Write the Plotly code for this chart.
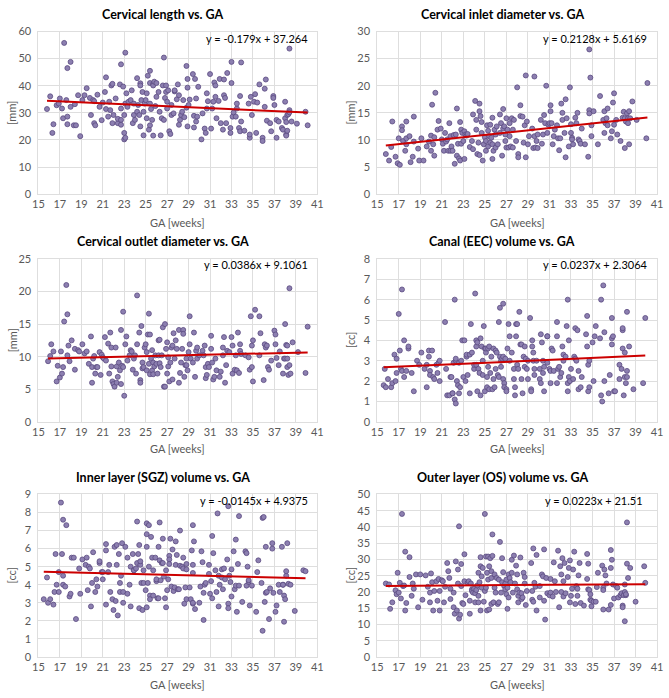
import plotly.graph_objects as go

W, H = 669, 698

# ---------------- data ----------------
titles = ["Cervical length vs. GA", "Cervical inlet diameter vs. GA",
          "Cervical outlet diameter vs. GA", "Canal (EEC) volume vs. GA",
          "Inner layer (SGZ) volume vs. GA", "Outer layer (OS) volume vs. GA"]
units = ["[mm]", "[mm]", "[mm]", "[cc]", "[cc]", "[cc]"]
equations = ["y = -0.179x + 37.264", "y = 0.2128x + 5.6169", "y = 0.0386x + 9.1061",
             "y = 0.0237x + 2.3064", "y = -0.0145x + 4.9375", "y = 0.0223x + 21.51"]
slopes = [-0.179, 0.2128, 0.0386, 0.0237, -0.0145, 0.0223]
intercepts = [37.264, 5.6169, 9.1061, 2.3064, 4.9375, 21.51]
y_max = [60, 30, 25, 8, 9, 50]
y_step = [10, 5, 5, 1, 1, 5]
x_ticks = [15, 17, 19, 21, 23, 25, 27, 29, 31, 33, 35, 37, 39, 41]

cl_pts = [(15.8,31.4),(16.1,36.1),(16.3,22.6),(16.4,25.8),(16.7,32.8),(16.9,33.4),(17.0,35.3),(17.2,31.6),
(17.3,28.0),(17.4,55.8),(17.6,34.7),(17.7,46.5),(17.7,28.6),(17.7,25.8),(18.0,48.8),(18.0,32.2),(18.3,25.4),
(18.4,33.2),(18.5,25.4),(18.7,36.5),(18.9,21.4),(19.1,34.7),(19.3,36.5),(19.5,39.1),(19.8,35.5),(19.9,29.2),
(20.1,34.7),(20.2,34.3),(20.2,26.2),(20.3,25.4),(20.5,36.7),(20.7,32.2),(20.9,27.3),(21.0,33.8),(21.2,37.7),
(21.3,43.1),(21.3,31.4),(21.5,28.6),(21.6,34.1),(21.7,31.0),(21.8,40.1),(21.9,40.7),(21.9,26.2),(22.0,29.2),
(22.2,35.3),(22.4,26.2),(22.4,27.8),(22.6,40.5),(22.7,47.9),(22.7,31.6),(22.7,27.4),(22.7,25.6),(22.9,39.7),
(23.0,22.6),(23.0,20.2),(23.1,52.2),(23.1,20.8),(23.1,33.4),(23.0,29.2),(23.2,37.2),(23.3,32.2),(23.4,34.1),
(23.6,34.7),(23.7,38.3),(23.8,26.2),(23.9,29.2),(23.9,33.4),(24.0,27.4),(24.2,42.8),(24.2,30.4),(24.3,32.9),
(24.4,29.2),(24.5,40.9),(24.5,40.1),(24.5,25.0),(24.6,34.7),(24.7,37.7),(24.8,30.4),(24.8,21.7),(24.9,33.4),
(25.0,34.7),(25.1,37.2),(25.1,28.0),(25.2,43.7),(25.3,23.8),(25.4,45.5),(25.4,41.0),(25.4,33.4),(25.4,25.4),
(25.5,31.4),(25.6,27.4),(25.7,40.7),(25.7,40.1),(25.7,21.6),(25.8,41.5),(25.9,32.5),(26.0,35.9),(26.0,41.0),
(26.2,37.7),(26.3,30.4),(26.4,21.7),(26.5,28.0),(26.7,50.4),(26.6,40.1),(26.7,27.4),(26.8,35.5),(26.9,37.7),
(26.9,40.1),(27.0,34.1),(27.0,31.6),(27.1,38.3),(27.2,23.2),(27.3,22.2),(27.4,29.2),(27.4,32.9),(27.6,29.8),
(27.7,37.9),(27.7,38.3),(27.9,35.0),(28.0,40.5),(28.1,36.5),(28.1,25.6),(28.2,27.4),(28.3,29.2),(28.4,30.4),
(28.5,34.7),(28.6,28.4),(28.8,47.3),(28.8,31.9),(28.9,42.5),(28.9,39.3),(28.9,25.0),(29.0,32.9),(29.1,34.9),
(29.4,44.3),(29.5,28.9),(29.5,24.6),(29.6,42.5),(29.7,35.3),(29.7,26.8),(29.8,28.6),(29.9,39.6),(30.2,20.2),
(30.3,29.8),(30.5,24.2),(30.6,22.6),(30.7,37.2),(30.7,31.6),(30.8,34.3),(31.0,44.3),(31.1,24.2),(31.2,31.6),
(31.3,34.1),(31.4,41.2),(31.5,40.1),(31.5,35.9),(31.6,28.0),(31.8,34.4),(31.9,42.5),(32.0,26.2),(32.2,23.8),
(32.3,42.3),(32.3,36.5),(32.4,35.5),(32.5,26.2),(32.6,44.7),(33.0,41.0),(32.9,24.4),(32.9,22.6),(33.0,48.8),
(33.1,28.6),(33.2,30.1),(33.4,28.6),(33.5,31.6),(33.5,33.4),(33.7,24.4),(33.8,36.2),(33.8,23.2),(33.9,48.6),
(33.9,26.8),(34.2,23.4),(34.6,33.4),(34.7,20.8),(34.7,22.0),(34.8,35.9),(34.9,29.2),(35.1,34.1),(35.2,36.9),
(35.3,22.6),(35.4,33.8),(35.6,40.5),(35.9,20.8),(35.9,19.6),(36.1,32.2),(36.1,38.9),(36.2,42.3),(36.3,27.1),
(36.6,26.2),(36.7,23.2),(36.9,36.2),(36.9,35.5),(37.0,32.9),(37.2,27.4),(37.2,20.8),(37.4,26.8),(37.7,24.4),
(37.8,23.8),(38.0,34.1),(38.0,28.0),(38.1,26.6),(38.1,22.0),(38.1,21.6),(38.2,23.4),(38.2,29.2),(38.3,29.5),
(38.4,53.7),(38.4,31.0),(38.4,30.2),(38.6,26.8),(39.1,26.0),(39.9,30.4),(40.1,25.4)]

inlet_pts = [(15.8,7.4),(16.1,6.2),(16.3,8.7),(16.4,13.4),(16.7,6.9),(16.9,5.7),(17.0,10.3),(17.1,5.4),(17.3,12.5),
(17.3,11.8),(17.4,9.8),(17.6,8.0),(17.7,10.3),(17.7,13.4),(17.7,9.2),(18.0,10.7),(18.1,5.9),(18.3,6.9),(18.4,9.7),
(18.4,14.3),(18.8,8.4),(18.9,6.2),(19.1,10.3),(19.3,6.2),(19.6,8.8),(19.8,9.7),(20.0,10.8),(20.0,8.0),(20.1,16.5),
(20.2,9.2),(20.3,7.1),(20.3,10.5),(20.4,18.7),(20.6,11.9),(20.7,13.5),(20.9,12.1),(21.0,10.1),(21.1,9.3),(21.2,8.0),
(21.3,11.3),(21.4,9.7),(21.5,10.1),(21.6,8.0),(21.7,13.1),(21.8,8.0),(21.8,10.7),(21.9,8.8),(22.0,8.0),(22.1,10.9),
(22.2,5.6),(22.3,11.0),(22.4,15.8),(22.4,7.1),(22.5,9.3),(22.6,6.6),(22.7,6.2),(22.7,13.3),(22.8,9.3),(22.8,11.9),
(22.9,11.3),(23.0,9.8),(23.1,11.6),(23.1,6.5),(23.2,11.0),(23.3,10.8),(23.4,11.1),(23.6,8.7),(23.8,9.8),(23.9,14.7),
(23.9,8.3),(24.1,17.2),(24.2,11.9),(24.2,13.7),(24.3,7.4),(24.4,9.5),(24.5,16.7),(24.5,15.3),(24.5,7.2),(24.6,14.4),
(24.7,11.3),(24.7,13.3),(24.8,6.2),(24.9,9.2),(25.0,10.5),(25.1,8.0),(25.1,9.8),(25.2,12.7),(25.3,11.7),(25.3,8.8),
(25.4,10.7),(25.5,12.8),(25.5,9.5),(25.6,10.4),(25.7,14.1),(25.7,6.5),(25.7,9.2),(25.8,8.0),(25.9,11.9),(26.0,8.6),
(26.0,11.0),(26.1,12.5),(26.2,9.2),(26.4,14.7),(26.4,11.3),(26.5,13.1),(26.6,7.1),(26.7,12.1),(26.7,15.7),(26.8,12.5),
(26.9,11.0),(26.9,9.8),(27.0,14.0),(27.0,8.6),(27.1,11.9),(27.2,8.6),(27.3,10.7),(27.3,13.1),(27.4,8.8),(27.5,14.0),
(27.6,11.9),(27.6,8.6),(27.7,13.7),(27.9,9.8),(28.0,19.7),(28.1,7.4),(28.1,6.8),(28.3,16.4),(28.3,14.4),(28.5,14.3),
(28.6,9.5),(28.7,12.7),(28.8,21.9),(28.8,6.8),(28.9,13.4),(29.0,9.2),(29.1,10.7),(29.4,12.1),(29.5,8.5),(29.6,10.7),
(29.6,21.7),(29.7,8.6),(29.8,9.8),(29.9,11.0),(29.9,8.5),(30.2,13.7),(30.3,9.3),(30.4,11.0),(30.5,14.6),(30.6,13.1),
(30.7,20.0),(30.8,11.3),(30.9,12.8),(31.0,13.1),(31.1,16.4),(31.1,15.3),(31.2,13.1),(31.3,9.2),(31.4,10.7),(31.5,11.9),
(31.7,12.7),(31.8,10.3),(31.9,8.1),(32.0,10.3),(32.1,16.7),(32.2,15.0),(32.2,13.7),(32.4,11.3),(32.5,17.5),(32.5,6.8),
(32.6,14.0),(32.8,8.8),(32.9,19.7),(33.0,12.9),(33.0,11.3),(33.1,10.4),(33.1,10.1),(33.2,9.2),(33.4,14.1),(33.5,13.1),
(33.6,15.0),(33.7,10.1),(33.8,9.8),(33.9,9.3),(34.0,12.1),(34.3,9.2),(34.6,6.9),(34.7,15.5),(34.7,14.9),(34.7,26.7),
(34.8,21.5),(34.9,12.7),(34.9,10.7),(35.1,15.3),(35.5,9.2),(35.7,18.1),(36.0,13.7),(36.1,11.3),(36.1,15.3),(36.2,13.1),
(36.3,14.0),(36.4,15.8),(36.4,12.7),(36.7,10.3),(36.8,11.6),(36.9,16.9),(37.0,12.8),(37.0,18.6),(37.2,13.7),(37.3,11.0),
(37.6,9.8),(37.8,14.1),(37.9,15.2),(38.0,14.0),(38.0,8.5),(38.1,13.4),(38.2,14.9),(38.3,14.0),(38.3,13.1),(38.4,9.2),
(38.4,15.3),(38.5,14.0),(38.7,17.1),(39.1,13.7),(40.0,10.3),(40.1,20.5)]

outlet_pts = [(15.9,9.3),(16.1,10.1),(16.2,11.9),(16.4,10.8),(16.7,6.2),(16.8,8.6),(17.0,6.8),(17.1,10.8),(17.2,7.4),
(17.3,8.4),(17.4,15.4),(17.6,21.0),(17.7,16.5),(17.7,10.2),(17.8,11.7),(17.9,9.3),(18.1,12.5),(18.4,8.0),(18.4,11.2),
(18.7,11.0),(18.8,10.8),(19.1,11.9),(19.3,10.5),(19.5,10.8),(19.7,8.9),(19.9,13.1),(20.0,8.4),(20.0,6.0),(20.1,9.7),
(20.2,10.1),(20.3,7.4),(20.4,8.4),(20.5,8.4),(20.7,10.7),(20.8,7.2),(20.9,10.3),(21.0,9.9),(21.1,9.7),(21.2,13.0),
(21.3,9.4),(21.5,12.0),(21.6,7.4),(21.7,13.7),(21.8,11.4),(21.8,8.5),(21.9,6.2),(22.0,5.8),(22.1,5.4),(22.2,11.4),
(22.3,6.0),(22.3,8.5),(22.4,6.9),(22.5,9.1),(22.6,7.9),(22.7,14.1),(22.7,5.8),(22.8,8.6),(22.9,8.4),(22.9,16.9),
(23.0,4.0),(23.1,11.9),(23.2,13.1),(23.3,9.4),(23.5,10.2),(23.6,11.0),(23.7,10.8),(23.8,8.0),(23.9,9.7),(24.0,10.2),
(24.1,7.4),(24.2,19.4),(24.2,11.9),(24.4,13.7),(24.5,6.4),(24.5,6.0),(24.6,14.7),(24.7,9.1),(24.7,8.2),(24.8,8.4),
(24.9,11.4),(25.0,11.9),(25.1,7.9),(25.1,10.7),(25.2,13.4),(25.3,16.6),(25.3,8.9),(25.4,7.3),(25.4,13.4),(25.5,9.7),
(25.6,11.0),(25.6,7.9),(25.7,7.3),(25.7,9.1),(25.8,8.5),(25.9,10.2),(26.0,8.9),(26.1,7.4),(26.2,10.2),(26.2,12.5),
(26.3,12.6),(26.3,9.0),(26.4,8.4),(26.5,10.2),(26.6,14.5),(26.7,5.4),(26.8,15.0),(26.8,5.4),(26.9,11.2),(27.0,7.4),
(27.0,12.2),(27.1,8.5),(27.1,9.9),(27.2,6.2),(27.3,9.1),(27.4,11.4),(27.5,6.5),(27.5,11.7),(27.6,13.6),(27.7,9.7),
(27.8,12.5),(27.9,11.2),(28.1,14.1),(28.1,6.0),(28.2,7.5),(28.3,9.1),(28.4,11.2),(28.5,14.1),(28.5,13.5),(28.6,6.9),
(28.7,8.7),(28.8,8.7),(28.8,9.7),(28.9,7.9),(29.0,10.7),(29.1,11.9),(29.1,16.2),(29.2,9.7),(29.4,9.1),(29.5,13.7),
(29.6,6.9),(29.7,10.9),(29.8,11.4),(29.8,9.7),(30.0,10.2),(30.3,10.9),(30.4,10.2),(30.5,11.7),(30.6,8.4),(30.6,6.7),
(30.7,7.2),(30.8,8.9),(30.9,8.4),(31.1,13.2),(31.1,11.2),(31.2,9.1),(31.3,6.5),(31.4,6.9),(31.5,9.7),(31.6,7.9),
(31.9,6.9),(32.0,7.7),(32.2,10.2),(32.2,11.4),(32.3,13.0),(32.4,6.0),(32.5,8.7),(32.6,10.9),(32.8,10.7),(33.0,13.0),
(33.1,11.7),(33.1,7.4),(33.3,8.0),(33.4,10.2),(33.5,7.9),(33.6,13.7),(33.7,7.5),(33.8,11.9),(33.8,10.9),(33.9,10.4),
(34.3,10.2),(34.6,9.9),(34.7,8.0),(34.8,16.2),(34.9,11.7),(34.9,8.4),(35.0,12.5),(35.0,6.2),(35.2,17.2),(35.6,16.2),
(35.6,10.2),(35.7,13.6),(36.0,6.4),(36.1,11.9),(36.2,11.4),(36.3,11.7),(36.4,8.4),(36.5,8.0),(36.7,9.4),(37.0,14.0),
(37.1,13.4),(37.1,11.9),(37.2,9.8),(37.4,8.7),(37.5,10.8),(37.8,7.4),(37.9,9.7),(38.0,15.0),(38.0,9.7),(38.1,11.8),
(38.2,11.7),(38.2,8.4),(38.2,9.7),(38.3,7.2),(38.4,20.5),(38.4,8.7),(38.5,7.4),(38.7,12.2),(39.2,10.7),(39.9,7.5),
(40.1,14.6)]

canal_pts = [(15.6,1.8),(15.7,2.6),(15.8,1.7),(16.0,2.1),(16.3,1.7),(16.4,1.9),(16.6,3.3),(16.7,2.0),(16.8,3.1),
(16.8,2.4),(17.0,5.3),(17.1,3.5),(17.2,2.6),(17.3,6.5),(17.3,2.5),(17.5,2.2),(17.5,4.0),(17.7,2.5),(17.9,3.6),
(17.9,3.7),(18.2,2.4),(18.4,1.5),(18.7,3.0),(18.9,2.8),(19.1,3.4),(19.4,2.6),(19.6,2.8),(19.6,1.7),(19.8,3.2),
(19.8,3.5),(19.9,2.5),(19.9,2.3),(20.1,3.5),(20.2,2.2),(20.3,2.1),(20.5,2.8),(20.6,2.4),(20.7,2.9),(20.8,2.0),
(20.8,3.0),(21.3,4.9),(21.4,2.6),(21.5,1.3),(21.7,1.3),(21.8,2.2),(21.9,2.2),(22.0,1.4),(22.0,1.4),(22.1,2.9),
(22.2,6.0),(22.2,1.1),(22.3,0.9),(22.3,3.0),(22.3,3.1),(22.4,2.0),(22.5,1.8),(22.6,2.9),(22.6,1.4),(22.7,1.7),
(22.8,3.0),(22.9,4.0),(23.0,2.2),(23.1,4.0),(23.2,2.0),(23.3,3.2),(23.3,3.3),(23.4,2.3),(23.6,1.4),(23.6,3.3),
(23.7,4.8),(23.8,3.4),(24.0,2.6),(24.0,2.8),(24.1,6.3),(24.2,3.7),(24.2,4.0),(24.2,2.8),(24.3,1.5),(24.3,3.9),
(24.4,2.6),(24.5,2.4),(24.6,4.1),(24.6,1.3),(24.7,3.7),(24.8,3.0),(24.8,2.3),(24.9,4.7),(25.0,3.6),(25.0,1.5),
(25.1,3.4),(25.1,3.6),(25.2,2.2),(25.2,1.7),(25.3,3.6),(25.3,2.7),(25.4,1.6),(25.4,3.7),(25.5,2.4),(25.6,3.2),
(25.7,1.6),(25.8,3.6),(25.8,2.1),(25.9,1.7),(26.0,2.6),(26.0,3.5),(26.1,3.4),(26.2,2.3),(26.3,2.2),(26.3,4.9),
(26.4,3.2),(26.4,5.6),(26.5,3.0),(26.5,2.7),(26.6,3.1),(26.7,5.8),(26.7,3.2),(26.7,2.1),(26.8,1.9),(26.8,1.7),
(26.9,3.1),(27.0,1.6),(27.0,1.5),(27.1,3.6),(27.2,4.8),(27.3,4.2),(27.3,3.0),(27.5,3.4),(27.7,2.1),(27.7,2.6),
(27.8,1.7),(27.8,1.3),(27.9,4.8),(27.9,4.2),(28.0,4.8),(28.0,2.8),(28.1,2.6),(28.2,5.4),(28.3,3.8),(28.4,2.1),
(28.4,3.8),(28.5,1.4),(28.6,3.2),(28.7,3.7),(28.7,2.7),(28.8,3.1),(28.9,2.6),(29.0,3.0),(29.0,2.1),(29.2,5.1),
(29.3,1.6),(29.3,1.5),(29.4,4.0),(29.4,3.7),(29.5,3.4),(29.5,3.0),(29.6,2.6),(29.6,2.3),(29.8,3.0),(30.1,2.6),
(30.1,2.1),(30.2,1.9),(30.2,4.3),(30.3,3.9),(30.4,3.0),(30.4,2.4),(30.5,1.5),(30.5,2.7),(30.8,4.2),(30.8,4.2),
(30.8,2.9),(31.0,2.6),(31.1,1.9),(31.1,2.5),(31.2,3.6),(31.3,3.5),(31.4,2.5),(31.7,1.9),(31.7,4.9),(31.7,4.2),
(31.8,2.6),(31.9,2.7),(32.0,2.2),(32.1,2.4),(32.2,3.7),(32.3,3.3),(32.3,3.0),(32.5,3.2),(32.6,4.7),(32.7,1.9),
(32.7,1.5),(32.7,6.0),(32.8,2.2),(32.8,4.0),(32.9,2.0),(33.0,2.6),(33.2,2.1),(33.3,3.2),(33.4,3.1),(33.4,4.6),
(33.5,3.0),(33.6,4.5),(33.7,2.5),(33.7,1.6),(33.9,1.7),(34.0,2.2),(34.4,4.3),(34.5,3.7),(34.5,5.2),(34.6,2.8),
(34.6,1.5),(34.7,3.0),(34.7,1.7),(35.0,3.9),(35.1,2.0),(35.2,4.2),(35.3,4.7),(35.7,4.1),(35.8,6.0),(35.8,1.3),
(35.9,1.0),(36.0,6.7),(36.1,2.0),(36.1,4.4),(36.5,1.4),(36.6,2.3),(36.8,5.1),(36.8,3.8),(36.8,4.1),(36.9,4.2),
(37.0,1.5),(37.1,1.5),(37.5,2.1),(37.5,2.8),(37.7,2.6),(37.8,4.5),(37.8,4.6),(37.8,3.6),(37.9,1.3),(38.0,3.4),
(38.0,2.2),(38.1,1.9),(38.2,5.4),(38.2,2.5),(38.2,2.2),(38.4,3.7),(38.8,1.6),(39.7,1.9),(39.9,5.1)]

inner_pts = [(15.5,3.2),(15.8,4.4),(15.9,3.0),(16.1,3.2),(16.4,2.9),(16.5,3.6),(16.6,5.7),(16.7,4.0),(16.9,3.6),
(16.9,4.7),(17.1,8.55),(17.2,5.7),(17.3,4.0),(17.3,4.5),(17.3,7.6),(17.5,3.9),(17.6,7.3),(17.9,3.35),(18.0,3.5),
(18.1,5.5),(18.3,5.5),(18.5,2.1),(18.8,4.9),(18.9,3.5),(19.1,5.4),(19.4,5.1),(19.5,5.5),(19.6,3.7),(19.7,5.0),
(19.8,4.9),(19.9,2.8),(20.0,4.1),(20.1,5.8),(20.3,3.6),(20.4,4.3),(20.5,3.9),(20.7,5.2),(20.7,5.3),(20.9,4.7),
(21.0,4.3),(21.0,4.7),(21.3,6.25),(21.3,5.9),(21.3,2.9),(21.5,4.7),(21.6,5.1),(21.7,3.6),(21.9,3.2),(22.0,2.6),
(22.1,6.1),(22.2,3.1),(22.3,6.2),(22.3,5.1),(22.4,2.3),(22.5,5.7),(22.6,3.6),(22.6,4.1),(22.7,4.5),(22.8,6.3),
(22.9,3.6),(22.9,3.0),(23.1,6.1),(23.3,5.5),(23.3,3.5),(23.5,4.0),(23.6,5.0),(23.6,2.8),(23.8,5.7),(23.9,4.8),
(23.9,4.8),(24.1,4.9),(24.2,7.5),(24.2,5.2),(24.3,5.7),(24.4,6.2),(24.4,2.7),(24.5,5.1),(24.5,5.3),(24.6,4.1),
(24.7,2.6),(24.8,4.8),(24.8,4.1),(25.0,3.7),(25.1,6.8),(25.1,7.4),(25.1,2.75),(25.1,6.1),(25.2,4.1),(25.3,7.3),
(25.3,5.0),(25.4,3.4),(25.4,3.2),(25.5,6.65),(25.6,5.5),(25.7,4.8),(25.7,3.4),(25.9,5.5),(26.0,4.2),(26.0,4.3),
(26.1,3.25),(26.2,3.25),(26.2,6.1),(26.3,5.35),(26.3,7.45),(26.4,4.25),(26.5,5.2),(26.6,5.2),(26.6,6.55),(26.7,4.45),
(26.8,3.25),(26.9,4.8),(26.9,2.75),(27.0,3.7),(27.1,4.3),(27.2,5.6),(27.2,5.4),(27.2,5.15),(27.3,6.55),(27.4,3.9),
(27.5,5.95),(27.6,3.65),(27.7,3.85),(27.8,6.4),(27.8,5.1),(27.9,5.65),(28.0,3.75),(28.1,3.75),(28.2,5.05),(28.2,7.0),
(28.4,5.0),(28.5,5.5),(28.5,4.9),(28.6,2.95),(28.7,3.85),(28.8,5.15),(28.8,3.2),(28.8,4.85),(29.1,3.85),(29.2,3.2),
(29.3,5.9),(29.4,7.3),(29.4,2.95),(29.4,3.0),(29.4,5.1),(29.4,4.65),(29.5,6.4),(29.6,2.65),(30.0,3.0),(30.1,3.9),
(30.2,5.85),(30.3,5.25),(30.4,3.55),(30.4,2.05),(30.5,4.0),(30.6,4.1),(30.9,5.1),(30.9,4.6),(31.0,3.5),(31.1,4.2),
(31.2,6.7),(31.2,3.25),(31.3,5.75),(31.5,4.8),(31.6,3.6),(31.7,7.95),(31.8,4.5),(31.8,2.8),(31.9,4.0),(32.1,4.4),
(32.1,4.85),(32.2,3.75),(32.3,4.9),(32.4,4.3),(32.6,5.4),(32.7,2.95),(32.7,2.7),(32.7,8.35),(32.8,4.5),(32.9,4.15),
(33.0,3.35),(33.0,4.85),(33.2,5.85),(33.3,3.75),(33.4,6.5),(33.4,3.95),(33.5,2.5),(33.6,5.15),(33.7,3.95),(33.7,7.8),
(34.0,3.05),(34.3,5.85),(34.4,5.75),(34.4,3.95),(34.5,5.0),(34.6,4.15),(34.6,4.25),(34.7,2.85),(34.9,3.95),(35.3,2.5),
(35.4,4.7),(35.5,5.35),(35.8,4.1),(35.9,1.45),(35.9,7.7),(36.0,7.75),(36.1,3.05),(36.2,6.1),(36.2,3.55),(36.3,3.6),
(36.5,2.1),(36.6,3.8),(36.8,6.0),(36.8,6.3),(36.9,3.55),(37.1,2.5),(37.2,2.85),(37.4,4.0),(37.5,3.6),(37.7,6.1),
(37.8,4.0),(37.8,4.0),(37.9,3.4),(37.9,1.95),(38.0,3.2),(38.1,4.5),(38.1,4.75),(38.2,6.3),(38.3,4.05),(38.5,4.0),
(38.9,2.55),(39.7,4.8),(39.9,4.75)]

outer_pts = [(15.8,22.6),(16.1,22.3),(16.2,14.8),(16.4,16.8),(16.7,20.5),(16.8,19.3),(16.9,25.9),(17.0,19.8),
(17.1,22.8),(17.2,18.0),(17.3,44.0),(17.4,21.8),(17.5,22.0),(17.6,14.3),(17.7,16.6),(17.6,32.4),(18.0,30.7),
(18.0,24.6),(18.2,18.8),(18.3,22.6),(18.4,21.0),(18.6,25.4),(18.8,15.3),(19.0,25.4),(19.2,17.6),(19.5,25.1),
(19.7,21.6),(19.9,19.8),(19.9,16.8),(20.0,25.7),(20.1,23.0),(20.2,14.3),(20.3,20.3),(20.5,23.3),(20.6,17.3),
(20.7,24.0),(20.8,14.3),(20.8,20.3),(21.0,23.6),(21.1,23.3),(21.2,16.8),(21.3,21.6),(21.5,28.9),(21.6,26.4),
(21.7,24.3),(21.8,21.0),(21.8,17.8),(22.1,19.8),(22.1,15.3),(22.2,13.3),(22.3,29.4),(22.4,14.3),(22.5,26.9),
(22.5,22.6),(22.6,40.2),(22.6,11.8),(22.7,13.0),(22.8,28.6),(22.8,21.8),(22.9,16.6),(23.0,16.3),(23.1,31.6),
(23.1,23.3),(23.2,19.0),(23.4,22.8),(23.5,23.3),(23.6,13.3),(23.6,17.3),(23.7,22.6),(23.8,20.8),(23.8,20.3),
(23.9,19.8),(24.0,21.0),(24.1,16.8),(24.1,19.6),(24.2,20.6),(24.3,22.0),(24.4,25.9),(24.4,16.8),(24.4,18.8),
(24.5,23.0),(24.6,30.7),(24.6,27.9),(24.6,14.3),(24.7,21.3),(24.7,24.8),(24.8,27.4),(24.9,17.0),(25.0,44.0),
(25.0,20.3),(25.1,30.9),(25.1,21.3),(25.2,25.9),(25.2,14.3),(25.3,30.9),(25.3,23.8),(25.4,27.9),(25.4,14.6),
(25.5,30.4),(25.6,16.3),(25.6,24.3),(25.6,26.4),(25.7,37.7),(25.7,31.1),(25.8,16.8),(25.9,21.3),(25.9,25.4),
(26.0,19.8),(26.1,24.3),(26.2,16.3),(26.3,23.8),(26.3,16.8),(26.4,35.4),(26.5,19.8),(26.6,30.4),(26.6,23.0),
(26.7,26.1),(26.8,21.8),(26.9,20.8),(26.9,22.6),(27.0,19.3),(27.0,23.8),(27.1,21.3),(27.1,14.8),(27.2,25.4),
(27.2,18.3),(27.3,24.3),(27.4,23.0),(27.5,25.9),(27.5,29.9),(27.6,19.8),(27.7,31.2),(27.8,22.6),(27.9,28.1),
(28.0,25.4),(28.0,20.8),(28.1,16.8),(28.1,18.8),(28.2,19.8),(28.3,30.6),(28.4,19.6),(28.4,17.8),(28.5,18.3),
(28.6,25.9),(28.7,24.6),(28.7,22.6),(28.8,16.0),(28.9,20.3),(29.3,28.9),(29.4,17.6),(29.4,20.3),(29.5,17.0),
(29.5,33.4),(29.6,22.8),(29.7,21.6),(29.8,31.4),(29.8,14.3),(30.1,18.3),(30.1,21.8),(30.3,25.4),(30.4,24.8),
(30.5,17.3),(30.5,33.1),(30.6,11.5),(30.7,24.3),(30.8,19.6),(31.0,19.0),(31.1,24.0),(31.1,19.8),(31.3,18.6),
(31.4,29.1),(31.5,23.3),(31.6,20.0),(31.8,32.7),(31.9,15.3),(32.0,27.9),(32.1,20.0),(32.1,25.4),(32.2,30.4),
(32.3,18.6),(32.3,23.3),(32.4,28.9),(32.5,19.6),(32.7,24.6),(32.8,27.4),(32.9,16.8),(32.9,29.7),(33.0,18.8),
(33.1,21.0),(33.2,26.9),(33.3,32.4),(33.4,16.3),(33.5,21.8),(33.6,21.0),(33.6,18.8),(33.7,25.1),(33.8,28.9),
(33.9,16.6),(34.2,15.8),(34.5,31.7),(34.5,24.0),(34.6,20.8),(34.6,28.7),(34.7,20.6),(34.8,19.3),(34.8,17.6),
(34.9,15.6),(34.9,17.3),(35.1,17.0),(35.3,17.0),(35.4,21.5),(35.5,25.9),(35.9,28.1),(36.0,21.3),(36.0,20.6),
(36.0,14.6),(36.1,26.9),(36.2,25.1),(36.3,22.6),(36.5,14.6),(36.7,16.0),(36.7,27.4),(36.7,32.9),(36.8,29.9),
(36.9,22.3),(37.0,18.0),(37.2,21.8),(37.3,21.3),(37.4,18.3),(37.6,19.0),(37.7,19.6),(37.8,15.8),(37.8,15.3),
(37.9,19.0),(38.0,20.0),(38.0,22.3),(38.0,11.0),(38.1,19.0),(38.1,19.3),(38.2,41.4),(38.2,28.7),(38.3,24.3),
(38.5,27.4),(39.0,17.0),(39.8,27.9),(39.9,22.8)]

panels = [cl_pts, inlet_pts, outlet_pts, canal_pts, inner_pts, outer_pts]

# ---------------- layout geometry (pixels) ----------------
col_x = [(33, 317), (378, 663)]
row_y = [(25, 190.7), (256.7, 422.7), (496.7, 662.3)]
title_y = [8, 239, 479]
xtitle_y = [220, 450, 690]
eq_right = [310, 655, 310, 656, 310, 651]
eq_y = [32, 32, 262, 262, 503, 503]

def px(x):
    return x / W

def py(y):
    return 1 - y / H

FONT = "Lato, 'Open Sans', Arial, sans-serif"
TICK_COLOR = "#595959"
GRID = "#dedede"

fig = go.Figure()
annotations = []
layout = dict(
    width=W, height=H, margin=dict(l=0, r=0, t=0, b=0),
    paper_bgcolor="white", plot_bgcolor="white", showlegend=False,
    font=dict(family=FONT, size=11, color=TICK_COLOR),
)

for i, pts in enumerate(panels):
    r, c = divmod(i, 2)
    n = i + 1
    xa = "x" if n == 1 else f"x{n}"
    ya = "y" if n == 1 else f"y{n}"
    xs = [p[0] for p in pts]
    ys = [p[1] for p in pts]
    fig.add_trace(go.Scatter(
        x=xs, y=ys, mode="markers", xaxis=xa, yaxis=ya,
        marker=dict(size=5, color="#8c7fb0", line=dict(color="#5a4a80", width=0.8)),
        hoverinfo="x+y"))
    x0, x1 = min(xs), max(xs)
    fig.add_trace(go.Scatter(
        x=[x0, x1], y=[slopes[i] * x0 + intercepts[i], slopes[i] * x1 + intercepts[i]],
        mode="lines", xaxis=xa, yaxis=ya, line=dict(color="#cc0000", width=2), hoverinfo="skip"))

    xl, xr = col_x[c]
    yt, yb = row_y[r]
    xkey = "xaxis" if n == 1 else f"xaxis{n}"
    ykey = "yaxis" if n == 1 else f"yaxis{n}"
    layout[xkey] = dict(domain=[px(xl), px(xr)], anchor=ya, range=[15, 41],
                        tickvals=x_ticks, showgrid=True, gridcolor=GRID, gridwidth=1,
                        showline=True, linecolor=GRID, mirror=True, zeroline=False,
                        ticks="", tickfont=dict(size=11, color=TICK_COLOR, family=FONT),
                        fixedrange=True)
    layout[ykey] = dict(domain=[py(yb), py(yt)], anchor=xa, range=[0, y_max[i]],
                        dtick=y_step[i], tick0=0, showgrid=True, gridcolor=GRID, gridwidth=1,
                        showline=True, linecolor=GRID, mirror=True, zeroline=False,
                        ticks="", tickfont=dict(size=11, color=TICK_COLOR, family=FONT),
                        ticklabelstandoff=4, fixedrange=True)

    cx = (xl + xr) / 2
    annotations.append(dict(x=px(cx - 15), y=py(title_y[r]), xref="paper", yref="paper",
                            text=f"<b>{titles[i]}</b>", showarrow=False,
                            font=dict(size=12.5, color="#000000", family=FONT),
                            xanchor="center", yanchor="middle"))
    annotations.append(dict(x=px(eq_right[i]), y=py(eq_y[i]), xref="paper", yref="paper",
                            text=equations[i], showarrow=False,
                            font=dict(size=11, color="#000000", family=FONT),
                            xanchor="right", yanchor="middle"))
    annotations.append(dict(x=px(cx), y=py(xtitle_y[r]), xref="paper", yref="paper",
                            text="GA [weeks]", showarrow=False,
                            font=dict(size=11, color=TICK_COLOR, family=FONT),
                            xanchor="center", yanchor="middle"))
    annotations.append(dict(x=px(xl - 27), y=py((yt + yb) / 2), xref="paper", yref="paper",
                            text=units[i], showarrow=False, textangle=-90,
                            font=dict(size=11, color=TICK_COLOR, family=FONT),
                            xanchor="center", yanchor="middle"))

layout["annotations"] = annotations
fig.update_layout(**layout)
fig.write_html("out.html")
